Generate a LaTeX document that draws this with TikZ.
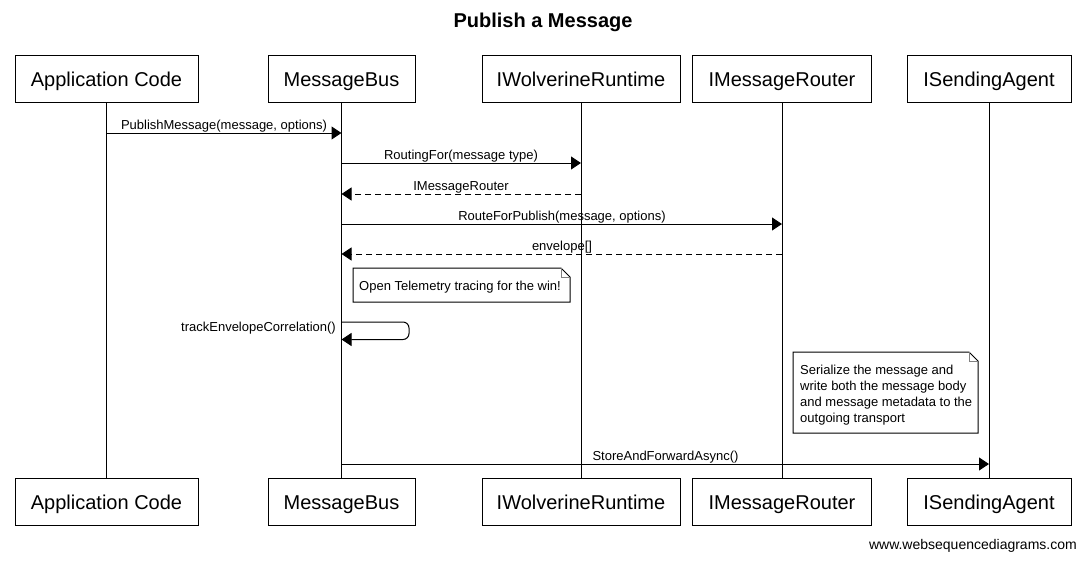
\documentclass[tikz,border=0pt]{standalone}
\usepackage{fontspec}
\setmainfont{Liberation Sans}
\usetikzlibrary{arrows.meta}
\tikzset{
  part/.style={draw, line width=1pt, minimum height=47pt, inner sep=0pt, text height=19pt, text depth=4pt, font=\fontsize{20}{24}\selectfont},
  life/.style={line width=1pt},
  msg/.style={line width=1pt, -{Triangle[length=10pt,width=13pt]}},
  ret/.style={msg, dash pattern=on 6pt off 4pt},
  lbl/.style={anchor=base, inner sep=0pt, font=\fontsize{13}{15}\selectfont},
  notetext/.style={anchor=north west, inner sep=0pt, align=left, font=\fontsize{13}{16}\selectfont},
  noteline/.style={line width=1pt},
  fold/.style={line width=0.6pt, draw=gray}
}
\begin{document}
\begin{tikzpicture}[x=1pt,y=-1pt]
\useasboundingbox (0,0) rectangle (1086,560);
\fill[white] (0,0) rectangle (1086,560);
\node[font=\bfseries\fontsize{20}{24}\selectfont] (title) at (543,22) {Publish a Message};
% participants top
\node[part, minimum width=183pt] (appT) at (106.5,78.5) {Application Code};
\node[part, minimum width=147pt] (mbT) at (341.5,78.5) {MessageBus};
\node[part, minimum width=198pt] (iwT) at (581,78.5) {IWolverineRuntime};
\node[part, minimum width=179pt] (irT) at (782,78.5) {IMessageRouter};
\node[part, minimum width=164pt] (isT) at (989,78.5) {ISendingAgent};
% participants bottom
\node[part, minimum width=183pt] (appB) at (106.5,501.5) {Application Code};
\node[part, minimum width=147pt] (mbB) at (341.5,501.5) {MessageBus};
\node[part, minimum width=198pt] (iwB) at (581,501.5) {IWolverineRuntime};
\node[part, minimum width=179pt] (irB) at (782,501.5) {IMessageRouter};
\node[part, minimum width=164pt] (isB) at (989,501.5) {ISendingAgent};
% lifelines
\draw[life] (appT.south) -- (appB.north);
\draw[life] (mbT.south) -- (mbB.north);
\draw[life] (iwT.south) -- (iwB.north);
\draw[life] (irT.south) -- (irB.north);
\draw[life] (isT.south) -- (isB.north);
% message coordinates
\coordinate (m1a) at (106.5,133); \coordinate (m1b) at (341.5,133);
\coordinate (m2a) at (341.5,163); \coordinate (m2b) at (581,163);
\coordinate (m3a) at (581,194);   \coordinate (m3b) at (341.5,194);
\coordinate (m4a) at (341.5,224); \coordinate (m4b) at (782,224);
\coordinate (m5a) at (782,254);   \coordinate (m5b) at (341.5,254);
\coordinate (m6a) at (341.5,322); \coordinate (m6c) at (409,322); \coordinate (m6d) at (409,339.5); \coordinate (m6b) at (341.5,339.5);
\coordinate (m7a) at (341.5,464); \coordinate (m7b) at (989,464);
% messages
\draw[msg] (m1a) -- (m1b);
\node[lbl] (l1) at (224,129.5) {PublishMessage(message, options)};
\draw[msg] (m2a) -- (m2b);
\node[lbl] (l2) at (461,159.5) {RoutingFor(message type)};
\draw[ret] (m3a) -- (m3b);
\node[lbl] (l3) at (461,190.5) {IMessageRouter};
\draw[msg] (m4a) -- (m4b);
\node[lbl] (l4) at (562,220.5) {RouteForPublish(message, options)};
\draw[ret] (m5a) -- (m5b);
\node[lbl] (l5) at (562,250.5) {envelope[]};
\draw[msg, rounded corners=6pt] (m6a) -- (m6c) -- (m6d) -- (m6b);
\node[lbl, anchor=base east] (l6) at (336,331) {trackEnvelopeCorrelation()};
\draw[msg] (m7a) -- (m7b);
\node[lbl] (l7) at (665.5,460.5) {StoreAndForwardAsync()};
% note 1
\draw[noteline, fill=white] (353,268) -- (561,268) -- (570,277) -- (570,302) -- (353,302) -- cycle;
\draw[fold] (561,268) -- (561,277) -- (570,277);
\node[notetext] (n1) at (359,280.5) {Open Telemetry tracing for the win!};
% note 2
\draw[noteline, fill=white] (793,352) -- (969,352) -- (978,361) -- (978,433) -- (793,433) -- cycle;
\draw[fold] (969,352) -- (969,361) -- (978,361);
\node[notetext] (n2) at (800,365) {Serialize the message and\\write both the message body\\and message metadata to the\\outgoing transport};
% footer
\node[anchor=east, inner sep=0pt, font=\fontsize{14}{16}\selectfont] (foot) at (1077,546) {www.websequencediagrams.com};
\end{tikzpicture}
\end{document}
